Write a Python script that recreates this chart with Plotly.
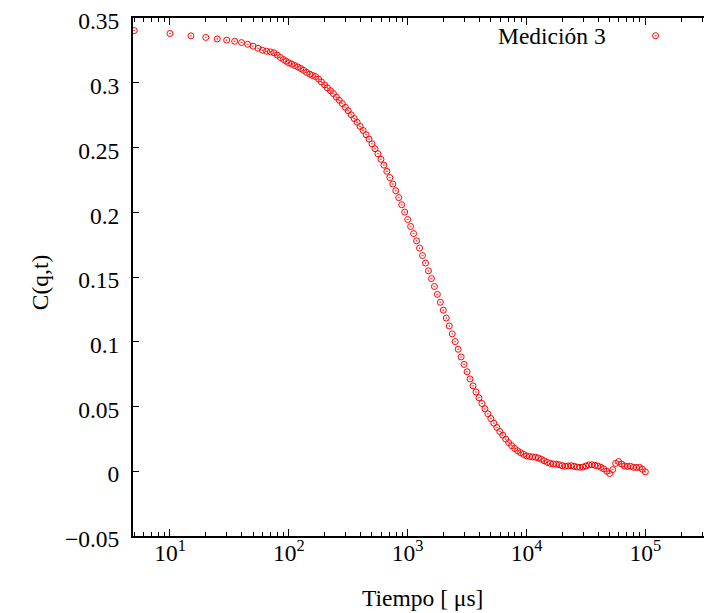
import plotly.graph_objects as go

# Sample times (microseconds)
tiempo_us = [
    5, 10, 15, 20, 25, 30, 35, 40, 45, 50, 55, 60, 65, 70, 75, 80, 85, 90, 95, 100,
    106, 112, 119, 126, 133, 141, 150, 158, 168, 178, 188, 200, 211, 224, 237, 251,
    266, 282, 299, 316, 335, 355, 376, 398, 422, 447, 473, 501, 531, 562, 596, 631,
    668, 708, 750, 794, 841, 891, 944,
    1000, 1059, 1122, 1189, 1259, 1334, 1413, 1496, 1585, 1679, 1778, 1884, 1995,
    2113, 2239, 2371, 2512, 2661, 2818, 2985, 3162, 3350, 3548, 3758, 3981, 4217,
    4467, 4732, 5012, 5309, 5623, 5957, 6310, 6683, 7079, 7499, 7943, 8414, 8913, 9441,
    10000, 10590, 11220, 11890, 12590, 13340, 14130, 14960, 15850, 16790, 17780,
    18840, 19950, 21130, 22390, 23710, 25120, 26610, 28180, 29850, 31620, 33500,
    35480, 37580, 39810, 42170, 44670, 47320, 50120, 53090, 56230, 59570, 63100,
    66830, 70790, 74990, 79430, 84140, 89130, 94410, 100000,
]

# Correlation C(q,t), "Medición 3"
medicion_3 = [
    0.3405, 0.3382, 0.3364, 0.3352, 0.3340, 0.3331, 0.3322, 0.3312, 0.3299, 0.3284,
    0.3268, 0.3253, 0.3245, 0.3240, 0.3233, 0.3215, 0.3197, 0.3181, 0.3168, 0.3156,
    0.3145, 0.3135, 0.3124, 0.3112, 0.3098, 0.3082, 0.3068, 0.3058, 0.3049, 0.3030,
    0.3008, 0.2985, 0.2962, 0.2940, 0.2918, 0.2890, 0.2866, 0.2840, 0.2812, 0.2785,
    0.2754, 0.2725, 0.2696, 0.2664, 0.2633, 0.2600, 0.2566, 0.2530, 0.2492, 0.2453,
    0.2410, 0.2365, 0.2317, 0.2269, 0.2219, 0.2167, 0.2114, 0.2059, 0.2002,
    0.1945, 0.1891, 0.1836, 0.1780, 0.1724, 0.1666, 0.1608, 0.1548, 0.1488, 0.1427,
    0.1366, 0.1305, 0.1244, 0.1183, 0.1122, 0.1061, 0.1001, 0.0942, 0.0883, 0.0825,
    0.0768, 0.0713, 0.0659, 0.0612, 0.0567, 0.0523, 0.0482, 0.0443, 0.0407, 0.0371,
    0.0338, 0.0307, 0.0278, 0.0248, 0.0221, 0.0197, 0.0176, 0.0158, 0.0143, 0.0130,
    0.0118, 0.0113, 0.0110, 0.0108, 0.0102, 0.0092, 0.0080, 0.0068, 0.0060, 0.0056,
    0.0054, 0.0050, 0.0042, 0.0038, 0.0040, 0.0042, 0.0038, 0.0032, 0.0030, 0.0032,
    0.0040, 0.0048, 0.0050, 0.0046, 0.0040, 0.0030, 0.0018, 0.0000, -0.0018, 0.0012,
    0.0060, 0.0074, 0.0055, 0.0040, 0.0036, 0.0038, 0.0030, 0.0028, 0.0030, 0.0015,
    -0.0005,
]

# Axis tick labels
x_tick_vals = [10, 100, 1000, 10000, 100000]
x_tick_text = ["10<sup>1</sup>", "10<sup>2</sup>", "10<sup>3</sup>",
               "10<sup>4</sup>", "10<sup>5</sup>"]
y_tick_vals = [-0.05, 0, 0.05, 0.1, 0.15, 0.2, 0.25, 0.3, 0.35]
y_tick_text = ["\u22120.05", "0", "0.05", "0.1", "0.15", "0.2", "0.25", "0.3", "0.35"]

serie_nombre = "Medición 3"
x_titulo = "Tiempo [ μs]"
y_titulo = "C(q,t)"

FONT = "'Liberation Serif', 'Times New Roman', 'DejaVu Serif', serif"
FS = 23.5

fig = go.Figure()
fig.add_trace(go.Scatter(
    x=tiempo_us, y=medicion_3, mode="markers", name=" ",
    marker=dict(symbol="circle-open-dot", size=6, color="#ff0000",
                line=dict(width=1, color="#ff0000")),
    showlegend=True,
))

# the page body adds an 8 px offset, so the figure is 8 px smaller
fig.update_layout(
    width=704, height=605,
    margin=dict(l=125, r=0, t=8, b=77),
    paper_bgcolor="white", plot_bgcolor="white",
    font=dict(family=FONT, size=FS, color="black"),
    showlegend=True,
    legend=dict(x=0.868, y=0.9654, xanchor="left", yanchor="middle",
                bgcolor="rgba(0,0,0,0)", borderwidth=0,
                font=dict(family=FONT, size=FS)),
    xaxis=dict(
        type="log", range=[0.6887, 5.561],
        showline=True, linecolor="black", linewidth=2, mirror="allticks",
        ticks="inside", ticklen=7, tickwidth=1, tickcolor="black",
        tickvals=x_tick_vals, ticktext=x_tick_text,
        showgrid=False, zeroline=False,
        ticklabelstandoff=-5,
        minor=dict(ticks="inside", ticklen=4, tickwidth=1, tickcolor="black",
                   dtick="D1", showgrid=False),
        tickfont=dict(family=FONT, size=FS),
    ),
    yaxis=dict(
        range=[-0.0501, 0.3502], tickvals=y_tick_vals, ticktext=y_tick_text,
        showline=True, linecolor="black", linewidth=2, mirror=False,
        ticks="inside", ticklen=6, tickwidth=1, tickcolor="black",
        showgrid=False, zeroline=False, ticklabelstandoff=7,
        ticklabelshift=3, ticklabeloverflow="allow",
        tickfont=dict(family=FONT, size=FS),
    ),
    annotations=[
        dict(text=serie_nombre, xref="paper", yref="paper", x=0.8204, y=0.9654,
             xanchor="right", yanchor="middle", showarrow=False,
             font=dict(family=FONT, size=FS)),
        dict(text=x_titulo, xref="paper", yref="paper", x=0.5, y=-0.1192,
             xanchor="center", yanchor="middle", showarrow=False,
             font=dict(family=FONT, size=FS)),
        dict(text=y_titulo, xref="paper", yref="paper", x=-0.1606, y=0.488,
             xanchor="center", yanchor="middle", textangle=-90, showarrow=False,
             font=dict(family=FONT, size=FS)),
    ],
)

fig.write_html("out.html")
